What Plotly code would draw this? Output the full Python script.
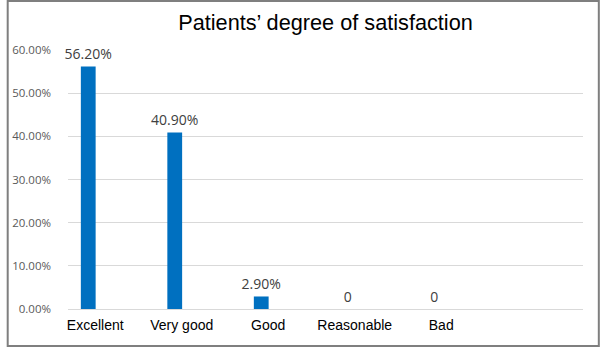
import plotly.graph_objects as go

categories = ["Excellent", "Very good", "Good", "Reasonable", "Bad"]
values = [56.2, 40.9, 2.9, 0, 0]
labels = [f"{v:.2f}%" if v else "0" for v in values]
y_ticks = [0, 10, 20, 30, 40, 50, 60]
y_ticktext = [f"{t:.2f}%" for t in y_ticks]

fig = go.Figure()
fig.add_trace(go.Bar(
    x=categories, y=values, text=labels, textposition="outside",
    constraintext="none",
    textfont=dict(family="Open Sans", size=14, color="#404040"),
    marker=dict(color="#0070c0", line=dict(width=0)),
    width=0.171, cliponaxis=False,
))

W, H = 600, 347
L, R, T, B = 62, 17, 50, 38
pw, ph = W - L - R, H - T - B

fig.update_layout(
    width=W, height=H,
    margin=dict(l=L, r=R, t=T, b=B),
    paper_bgcolor="white", plot_bgcolor="white",
    showlegend=False,
    title=dict(text="Patients’ degree of satisfaction", x=0.5, xref="paper",
               xanchor="center", y=1 - 22 / H, yanchor="middle",
               font=dict(family="Liberation Sans", size=21.7, color="#000000")),
    xaxis=dict(type="category", range=[-0.234, 5.72], showgrid=False,
               showline=False, zeroline=False, ticks="",
               tickfont=dict(family="Liberation Sans", size=14, color="#000000"),
               ticklabelshift=7, ticklabelstandoff=6),
    yaxis=dict(range=[0, 60], tickvals=y_ticks, ticktext=y_ticktext,
               showgrid=True, gridcolor="#d9d9d9", gridwidth=1,
               zeroline=True, zerolinecolor="#d9d9d9", zerolinewidth=1,
               showline=False, ticks="",
               tickfont=dict(family="Open Sans", size=11.5, color="#595959"),
               ticklabelstandoff=16),
    shapes=[dict(type="rect", xref="paper", yref="paper",
                 x0=(1 - L) / pw, x1=(W - 1 - L) / pw,
                 y0=(H - B - (H - 1)) / ph, y1=(H - B - 1) / ph,
                 line=dict(color="#7f7f7f", width=2), fillcolor="rgba(0,0,0,0)")],
)

fig.write_html("out.html")
